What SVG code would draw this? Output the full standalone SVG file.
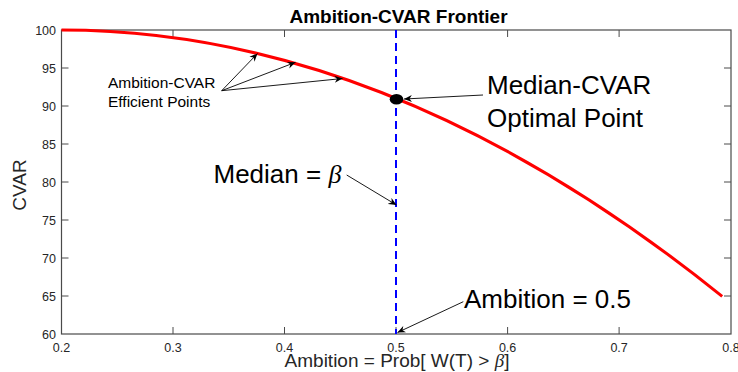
<svg xmlns="http://www.w3.org/2000/svg" width="738" height="372" viewBox="0 0 738 372">
  <style>
    .ax { stroke: #4a4a4a; stroke-width: 1.2; fill: none; }
    .tick { stroke: #4a4a4a; stroke-width: 1; }
    .tl { font-family: "Liberation Sans", Arial, sans-serif; font-size: 12.5px; fill: #262626; }
    .tlx { text-anchor: middle; }
    .tly { text-anchor: end; }
    .lbl { font-family: "Liberation Sans", Arial, sans-serif; font-size: 19px; fill: #262626; }
    .big { font-family: "Liberation Sans", Arial, sans-serif; font-size: 26px; fill: #000; }
    .small { font-family: "Liberation Sans", Arial, sans-serif; font-size: 15.5px; fill: #000; }
    .greek { font-family: "Liberation Serif", "Times New Roman", serif; font-style: italic; }
    .conn { stroke: #000; stroke-width: 0.9; fill: none; marker-end: url(#head); }
  </style>
  <defs>
    <marker id="head" viewBox="-8 -4 9 8" markerWidth="9" markerHeight="8" refX="0" refY="0" orient="auto" markerUnits="userSpaceOnUse">
      <path d="M0,0 L-8,-3.5 L-5.5,0 L-8,3.5 Z" fill="#000"/>
    </marker>
  </defs>

  <rect width="738" height="372" fill="#fff"/>

  <!-- plot box and ticks -->
  <g id="axes">
    <rect class="ax" x="61.5" y="30" width="669.5" height="304"/>
    <g class="tick">
      <!-- x ticks, bottom and top -->
      <path d="M173,334v-7 M284.5,334v-7 M396,334v-7 M507.6,334v-7 M619.1,334v-7"/>
      <path d="M173,30v7 M284.5,30v7 M396,30v7 M507.6,30v7 M619.1,30v7"/>
      <!-- y ticks, left and right -->
      <path d="M61.5,68h7 M61.5,106h7 M61.5,144h7 M61.5,182h7 M61.5,220h7 M61.5,258h7 M61.5,296h7"/>
      <path d="M731,68h-7 M731,106h-7 M731,144h-7 M731,182h-7 M731,220h-7 M731,258h-7 M731,296h-7"/>
    </g>
    <g class="tl tlx">
      <text x="61.5" y="351.5">0.2</text>
      <text x="173" y="351.5">0.3</text>
      <text x="284.5" y="351.5">0.4</text>
      <text x="396" y="351.5">0.5</text>
      <text x="507.6" y="351.5">0.6</text>
      <text x="619.1" y="351.5">0.7</text>
      <text x="731" y="351.5">0.8</text>
    </g>
    <g class="tl tly">
      <text x="56" y="34.5">100</text>
      <text x="56" y="72.5">95</text>
      <text x="56" y="110.5">90</text>
      <text x="56" y="148.5">85</text>
      <text x="56" y="186.5">80</text>
      <text x="56" y="224.5">75</text>
      <text x="56" y="262.5">70</text>
      <text x="56" y="300.5">65</text>
      <text x="56" y="338.5">60</text>
    </g>
    <text x="398.5" y="23" text-anchor="middle" font-family="Liberation Sans, Arial, sans-serif" font-size="19" font-weight="bold" fill="#000">Ambition-CVAR Frontier</text>
    <text class="lbl" x="397" y="367" text-anchor="middle">Ambition = Prob[ W(T) &gt; <tspan class="greek">β</tspan>]</text>
    <text class="lbl" transform="translate(25.5,185) rotate(-90)" text-anchor="middle">CVAR</text>
  </g>

  <!-- efficient frontier -->
  <g id="frontier">
    <path d="M61.5,30 Q391.8,30 722.2,296.4" fill="none" stroke="#ff0000" stroke-width="3"/>
  </g>

  <!-- ambition = 0.5 reference line -->
  <g id="median-line">
    <line x1="396" y1="30" x2="396" y2="334" stroke="#0000ff" stroke-width="2" stroke-dasharray="8,5"/>
  </g>

  <!-- optimal point -->
  <g id="optimal-point">
    <ellipse cx="396.5" cy="99.3" rx="6.8" ry="5.2" fill="#000"/>
  </g>

  <!-- annotation labels -->
  <g id="label-efficient">
    <text class="small" x="108" y="88">Ambition-CVAR</text>
    <text class="small" x="108" y="107">Efficient Points</text>
  </g>
  <g id="label-optimal">
    <text class="big" x="487" y="94">Median-CVAR</text>
    <text class="big" x="487" y="127">Optimal Point</text>
  </g>
  <g id="label-median">
    <text class="big" x="213.5" y="183">Median = <tspan class="greek">β</tspan></text>
  </g>
  <g id="label-ambition">
    <text class="big" x="464" y="307.5">Ambition = 0.5</text>
  </g>

  <!-- arrows -->
  <g id="connectors">
    <line class="conn" x1="221.7" y1="90.7" x2="257.5" y2="53.5"/>
    <line class="conn" x1="221.7" y1="90.7" x2="295.5" y2="62.3"/>
    <line class="conn" x1="221.7" y1="90.7" x2="342.5" y2="78.5"/>
    <line class="conn" x1="483" y1="95" x2="404" y2="99"/>
    <line class="conn" x1="346.7" y1="175" x2="396.5" y2="205"/>
    <line class="conn" x1="463.3" y1="301.7" x2="397.5" y2="332.5"/>
  </g>
</svg>
